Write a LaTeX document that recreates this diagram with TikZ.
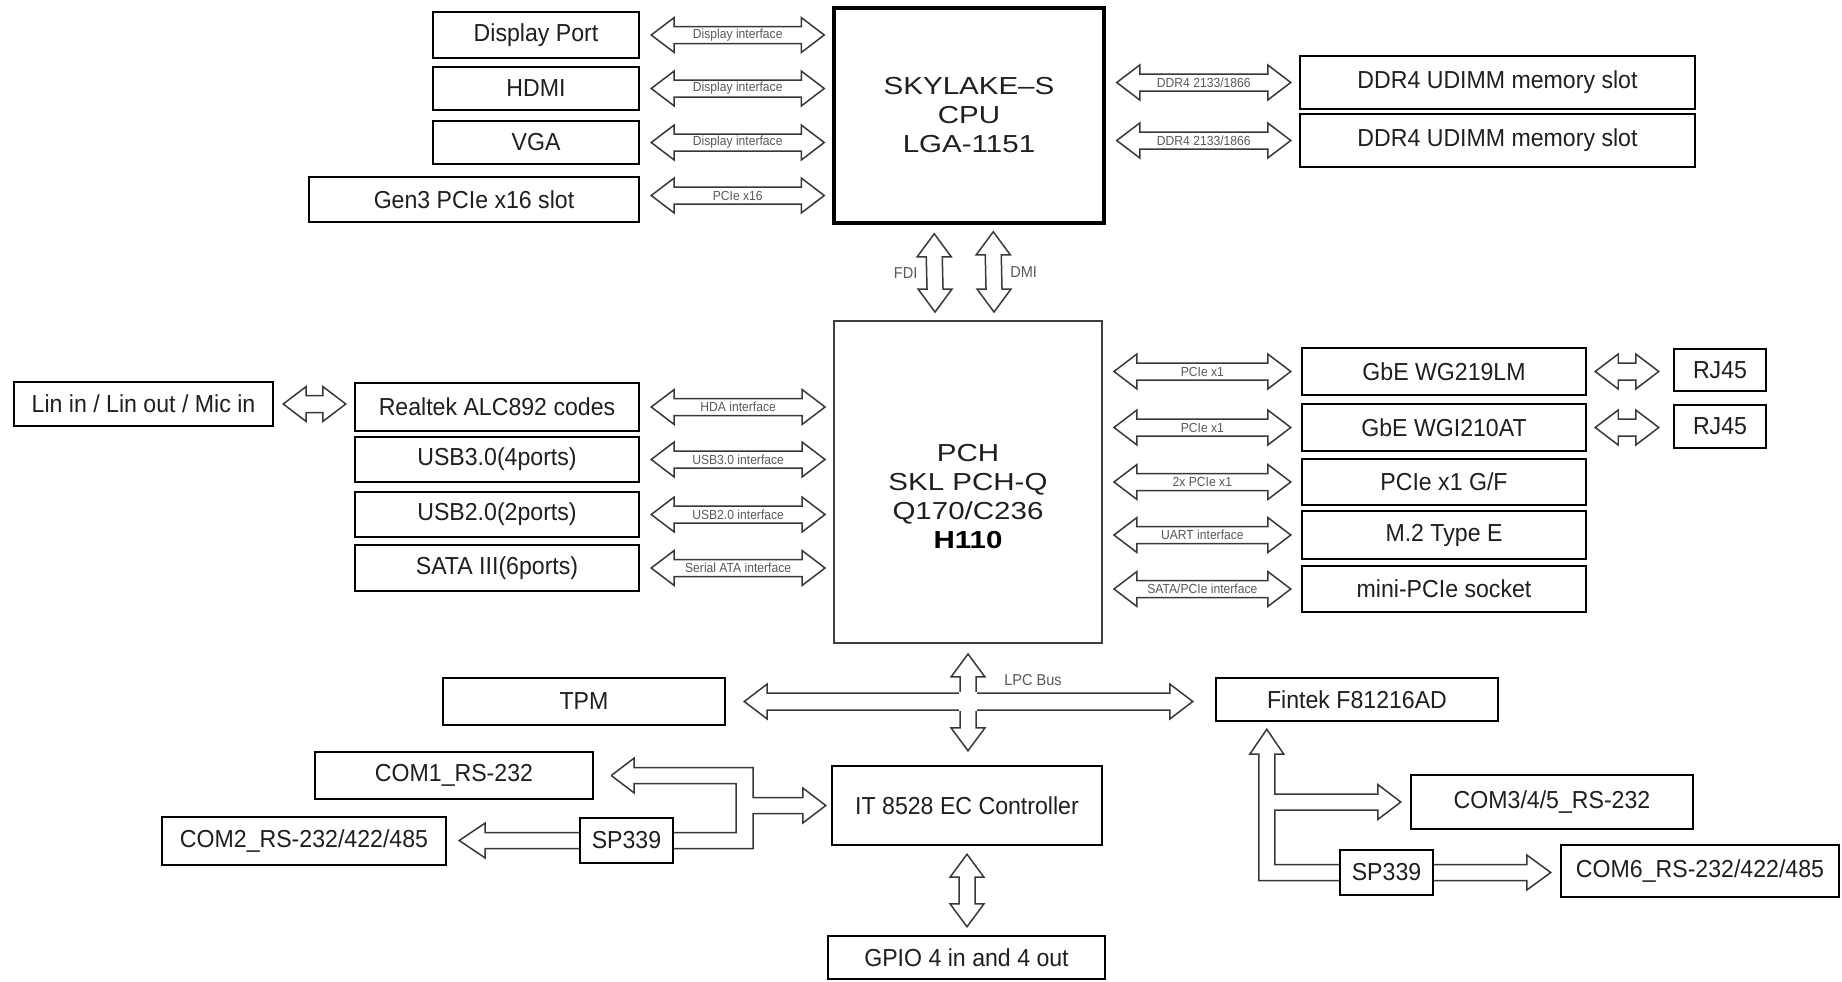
\documentclass[tikz,border=0pt]{standalone}
\usepackage{fontspec}
\setmainfont{Liberation Sans}
\newfontfamily\boxfont{Liberation Sans}[FakeStretch=0.94]
\newfontfamily\chipfont{Liberation Sans}[FakeStretch=1.2]
\newfontfamily\lblfont{Liberation Sans}[FakeStretch=0.92]
\usetikzlibrary{calc}
\definecolor{txt}{gray}{0.12}
\definecolor{arrc}{gray}{0.22}
\definecolor{lblc}{gray}{0.35}
\tikzset{
  box/.style={draw=black, line width=1.4pt, inner sep=0pt, text=txt,
    font=\boxfont\fontsize{14}{16}\selectfont},
  chip/.style={draw=black, line width=2pt, inner sep=0pt, text=txt, align=center,
    font=\chipfont\fontsize{14}{16.5}\selectfont},
  pchbox/.style={draw=black!75, line width=1.1pt, inner sep=0pt},
  chiptext/.style={inner sep=0pt, text=txt, align=center,
    font=\chipfont\fontsize{14}{16.5}\selectfont},
  barrow/.style={draw=arrc, line width=0.85pt, fill=white, line join=miter},
  bline/.style={draw=arrc, line width=0.85pt, line join=miter},
  lbl/.style={inner sep=0pt, text=lblc, font=\lblfont\fontsize{7.5}{8}\selectfont},
  flbl/.style={inner sep=0pt, text=lblc, font=\lblfont\fontsize{9}{10}\selectfont},
}
% box from (x1,y1) to (x2,y2) in pixel units, then name; text follows
\newcommand\bnode[6][box]{\node[#1,minimum width={(#4-#2)*0.02cm},
  minimum height={(#5-#3)*0.02cm}] (#6) at ({(#2+#4)/2},{(#3+#5)/2})}
\newcommand\hdarr[2]{%
  \coordinate (ha) at (#1); \coordinate (hb) at (#2);
  \draw[barrow] (ha) -- ++(23,-17.5) -- ++(0,9) -- ($(hb)+(-23,-8.5)$) -- ++(0,-9) -- (hb)
    -- ++(-23,17.5) -- ++(0,-9) -- ($(ha)+(23,8.5)$) -- ++(0,9) -- cycle;}
\newcommand\hdlbl[3]{\hdarr{#1}{#2}\path (ha) -- node[lbl]{#3} (hb);}
\newcommand\vdarr[2]{%
  \coordinate (va) at (#1); \coordinate (vb) at (#2);
  \draw[barrow] (va) -- ++(17,23) -- ++(-9,0) -- ($(vb)+(8,-23)$) -- ++(9,0) -- (vb)
    -- ++(-17,-23) -- ++(9,0) -- ($(va)+(-8,23)$) -- ++(-9,0) -- cycle;}
\begin{document}
\begin{tikzpicture}[x=0.02cm,y=-0.02cm]
\fill[white] (0,0) rectangle (1842,981);
\useasboundingbox (0,0) rectangle (1842,981);

% ---------- top ----------
\bnode{433}{12}{639}{58}{dp} {Display Port};
\bnode{433}{67}{639}{110}{hdmi} {HDMI};
\bnode{433}{121}{639}{164}{vga} {VGA};
\bnode{309}{177}{639}{222}{gen3} {Gen3 PCIe x16 slot};
\bnode[chip]{834}{8}{1104}{223}{cpu} {SKYLAKE–S\\CPU\\LGA-1151};
\bnode{1300}{56}{1695}{109}{ddr1} {DDR4 UDIMM memory slot};
\bnode{1300}{114}{1695}{167}{ddr2} {DDR4 UDIMM memory slot};

% ---------- PCH ----------
\bnode[pchbox]{834}{321}{1102}{643}{pch} {};
\node[chiptext] (pchtxt) at (968,497) {PCH\\SKL PCH-Q\\Q170/C236\\\textbf{\color{black}H110}};

\bnode{14}{382}{273}{426}{lin} {Lin in / Lin out / Mic in};
\bnode{355}{383}{639}{431}{realtek} {Realtek ALC892 codes};
\bnode{355}{437}{639}{482}{usb3} {USB3.0(4ports)};
\bnode{355}{492}{639}{537}{usb2} {USB2.0(2ports)};
\bnode{355}{545}{639}{591}{sata} {SATA III(6ports)};

\bnode{1302}{348}{1586}{395}{gbe1} {GbE WG219LM};
\bnode{1302}{404}{1586}{451}{gbe2} {GbE WGI210AT};
\bnode{1302}{459}{1586}{505}{pcie1} {PCIe x1 G/F};
\bnode{1302}{511}{1586}{559}{m2} {M.2 Type E};
\bnode{1302}{566}{1586}{612}{mini} {mini-PCIe socket};
\bnode{1674}{349}{1766}{391}{rj1} {RJ45};
\bnode{1674}{405}{1766}{448}{rj2} {RJ45};

% ---------- bottom ----------
\bnode{443}{678}{725}{725}{tpm} {TPM};
\bnode{1216}{678}{1498}{721}{fintek} {Fintek F81216AD};
\bnode{832}{766}{1102}{845}{ec} {IT 8528 EC Controller};
\bnode{828}{936}{1105}{979}{gpio} {GPIO 4 in and 4 out};
\bnode{315}{752}{593}{799}{com1} {COM1\_RS-232};
\bnode{162}{817}{446}{865}{com2} {COM2\_RS-232/422/485};
\bnode{580}{818}{673}{863}{sp1} {SP339};
\bnode{1411}{775}{1693}{829}{com3} {COM3/4/5\_RS-232};
\bnode{1340}{850}{1433}{895}{sp2} {SP339};
\bnode{1561}{845}{1839}{897}{com6} {COM6\_RS-232/422/485};

% ---------- CPU arrows ----------
\hdlbl{$(dp.east)+(11,0)$}{$(cpu.west|-dp.east)+(-8,0)$}{Display interface}
\hdlbl{$(hdmi.east)+(11,0)$}{$(cpu.west|-hdmi.east)+(-8,0)$}{Display interface}
\hdlbl{$(vga.east)+(11,0)$}{$(cpu.west|-vga.east)+(-8,0)$}{Display interface}
\hdlbl{$(gen3.east)+(11,-4)$}{$(cpu.west|-gen3.east)+(-8,-4)$}{PCIe x16}
\hdlbl{$(cpu.east|-ddr1.west)+(11,0)$}{$(ddr1.west)+(-8,0)$}{DDR4 2133/1866}
\hdlbl{$(cpu.east|-ddr2.west)+(11,0)$}{$(ddr2.west)+(-8,0)$}{DDR4 2133/1866}

\vdarr{$(cpu.south west)+(102,9)$}{$(pch.north west)+(102,-8)$}
\path (va) -- node[flbl,xshift=-0.58cm]{FDI} (vb);
\vdarr{$(cpu.south west)+(161,7)$}{$(pch.north west)+(161,-8)$}
\path (va) -- node[flbl,xshift=0.6cm]{DMI} (vb);

% ---------- PCH arrows ----------
\hdarr{$(lin.east)+(9,0)$}{$(realtek.west|-lin.east)+(-8,0)$}
\hdlbl{$(realtek.east)+(11,0)$}{$(pch.west|-realtek.east)+(-8,0)$}{HDA interface}
\hdlbl{$(usb3.east)+(11,0)$}{$(pch.west|-usb3.east)+(-8,0)$}{USB3.0 interface}
\hdlbl{$(usb2.east)+(11,0)$}{$(pch.west|-usb2.east)+(-8,0)$}{USB2.0 interface}
\hdlbl{$(sata.east)+(11,0)$}{$(pch.west|-sata.east)+(-8,0)$}{Serial ATA interface}

\hdlbl{$(pch.east|-gbe1.west)+(11,0)$}{$(gbe1.west)+(-10,0)$}{PCIe x1}
\hdlbl{$(pch.east|-gbe2.west)+(11,0)$}{$(gbe2.west)+(-10,0)$}{PCIe x1}
\hdlbl{$(pch.east|-pcie1.west)+(11,0)$}{$(pcie1.west)+(-10,0)$}{2x PCIe x1}
\hdlbl{$(pch.east|-m2.west)+(11,0)$}{$(m2.west)+(-10,0)$}{UART interface}
\hdlbl{$(pch.east|-mini.west)+(11,0)$}{$(mini.west)+(-10,0)$}{SATA/PCIe interface}
\hdarr{$(gbe1.east)+(8,0)$}{$(rj1.west|-gbe1.east)+(-14,0)$}
\hdarr{$(gbe2.east)+(8,0)$}{$(rj2.west|-gbe2.east)+(-14,0)$}

% ---------- LPC bus ----------
\hdarr{$(tpm.east)+(18,0)$}{$(fintek.west|-tpm.east)+(-22,0)$}
\vdarr{$(pch.south)+(0,10)$}{$(pch.south|-ec.north)+(0,-14)$}
\coordinate (lpc) at (pch.south|-tpm.east);
\fill[white] ($(lpc)+(-8.7,-9.2)$) rectangle ($(lpc)+(8.7,9.2)$);
\node[flbl] (lpclbl) at ($(lpc)+(65,-21)$) {LPC Bus};

\vdarr{$(ec.south)+(0,8)$}{$(ec.south|-gpio.north)+(0,-8)$}

% ---------- EC serial ports ----------
\coordinate (t1) at ($(com1.east)+(17,0)$);
\coordinate (t2) at ($(ec.west)+(-5,0)$);
\coordinate (k1) at ($(sp1.east)+(79,0)$);
\coordinate (k2) at ($(sp1.east)+(62,0)$);
\draw[bline] (t1) -- ++(23,-17.5) -- ++(0,9.5) -- ($(k1|-t1)+(0,-8)$) -- ($(k1|-t2)+(0,-8)$)
  -- ($(t2)+(-23,-8)$) -- ++(0,-9.5) -- (t2) -- ++(-23,17.5) -- ++(0,-9.5)
  -- ($(k1|-t2)+(0,8)$) -- ($(k1|-sp1.east)+(0,8)$) -- ($(sp1.east)+(0,8)$);
\draw[bline] (t1) -- ++(23,17.5) -- ++(0,-9.5) -- ($(k2|-t1)+(0,8)$)
  -- ($(k2|-sp1.east)+(0,-8)$) -- ($(sp1.east)+(0,-8)$);
\coordinate (t3) at ($(com2.east|-sp1.west)+(12,0)$);
\draw[bline] ($(sp1.west)+(0,-8)$) -- ($(t3)+(26,-8)$) -- ++(0,-9.5) -- (t3)
  -- ++(26,17.5) -- ++(0,-9.5) -- ($(sp1.west)+(0,8)$);

% ---------- Fintek serial ports ----------
\coordinate (t4) at ($(fintek.south west)+(52,7)$);
\coordinate (t5) at ($(com3.west)+(-9,0)$);
\draw[bline] ($(sp2.west)+(0,8)$) -- ($(t4|-sp2.west)+(-8,8)$) -- ($(t4)+(-8,25)$)
  -- ++(-9,0) -- (t4) -- ++(17,25) -- ++(-9,0) -- ($(t4|-t5)+(8,-8)$)
  -- ($(t5)+(-23,-8)$) -- ++(0,-9.5) -- (t5) -- ++(-23,17.5) -- ++(0,-9.5)
  -- ($(t4|-t5)+(8,8)$) -- ($(t4|-sp2.west)+(8,-8)$) -- ($(sp2.west)+(0,-8)$);
\coordinate (t6) at ($(com6.west|-sp2.east)+(-9,0)$);
\draw[bline] ($(sp2.east)+(0,-8)$) -- ($(t6)+(-24,-8)$) -- ++(0,-9.5) -- (t6)
  -- ++(-24,17.5) -- ++(0,-9.5) -- ($(sp2.east)+(0,8)$);
\end{tikzpicture}
\end{document}
